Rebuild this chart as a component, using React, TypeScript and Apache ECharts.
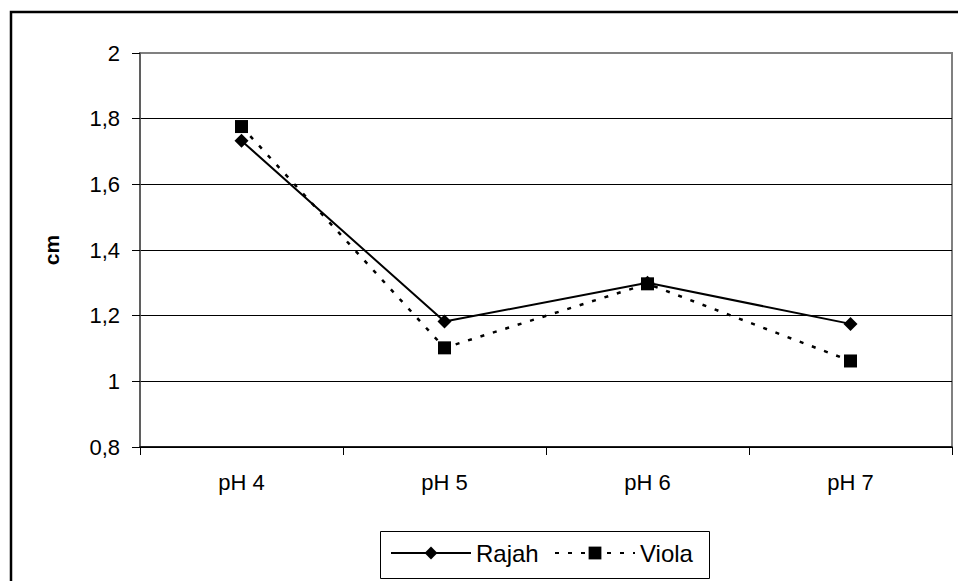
import React, { useEffect, useRef } from "react";
import * as echarts from "echarts";

const categories = ["pH 4", "pH 5", "pH 6", "pH 7"];
const rajah = [1.733, 1.182, 1.3, 1.175];
const viola = [1.776, 1.102, 1.297, 1.062];
const yTickLabels = ["0,8", "1", "1,2", "1,4", "1,6", "1,8", "2"];

export default function App() {
  const ref = useRef<HTMLDivElement>(null);
  useEffect(() => {
    if (!ref.current) return;
    const chart = echarts.init(ref.current, null, { renderer: "svg" });
    const font = "Liberation Sans, Arial, sans-serif";
    const legendCommon = {
      top: 541,
      orient: "horizontal",
      itemHeight: 16,
      itemWidth: 80,
      padding: 0,
      textStyle: { fontSize: 24, fontFamily: font, color: "#000" },
    };
    chart.setOption({
      animation: false,
      backgroundColor: "#fff",
      textStyle: { fontFamily: font, color: "#000" },
      grid: { left: 140, top: 53, right: 6, bottom: 134, show: true, borderColor: "#808080", borderWidth: 2 },
      graphic: [
        {
          type: "rect",
          shape: { x: 11, y: 12, width: 1000, height: 1000 },
          style: { fill: "none", stroke: "#000", lineWidth: 2.5 },
          z: 100,
        },
        {
          type: "rect",
          shape: { x: 380.5, y: 531.5, width: 329, height: 47 },
          style: { fill: "none", stroke: "#000", lineWidth: 1 },
          z: 100,
        },
      ],
      legend: [
        { ...legendCommon, left: 390, data: ["Rajah"] },
        { ...legendCommon, left: 554, data: ["Viola"] },
      ],
      xAxis: {
        type: "category",
        data: categories,
        boundaryGap: true,
        axisLine: { lineStyle: { color: "#000", width: 1.5 } },
        axisTick: { show: true, length: 8, lineStyle: { color: "#000" } },
        axisLabel: { fontSize: 22, color: "#000", margin: 24, fontFamily: font },
        splitLine: { show: false },
      },
      yAxis: {
        type: "value",
        min: 0.8,
        max: 2,
        interval: 0.2,
        name: "cm",
        nameLocation: "middle",
        nameGap: 78,
        nameMoveOverlap: false,
        nameTextStyle: { fontSize: 21, fontWeight: "bold", color: "#000", fontFamily: font },
        axisLine: { show: true, lineStyle: { color: "#555", width: 1.5 } },
        axisTick: { show: true, length: 8, lineStyle: { color: "#000" } },
        axisLabel: {
          fontSize: 22,
          color: "#000",
          margin: 20,
          fontFamily: font,
          formatter: (v: number) => yTickLabels[Math.round((v - 0.8) / 0.2)],
        },
        splitLine: {
          show: true,
          lineStyle: { color: ["#000", "#000", "#000", "#000", "#000", "#000", "#808080"], width: 1.2 },
        },
      },
      series: [
        {
          name: "Rajah",
          type: "line",
          data: rajah,
          symbol: "diamond",
          symbolSize: 14,
          lineStyle: { color: "#000", width: 2 },
          itemStyle: { color: "#000" },
          z: 3,
        },
        {
          name: "Viola",
          type: "line",
          data: viola,
          symbol: "rect",
          symbolSize: 13,
          lineStyle: { color: "#000", width: 2.5, type: [4, 9] },
          itemStyle: { color: "#000" },
          z: 4,
        },
      ],
    });
    return () => chart.dispose();
  }, []);
  return (
    <div
      ref={ref}
      style={{ position: "absolute", left: 0, top: 0, width: 958, height: 581 }}
    />
  );
}
